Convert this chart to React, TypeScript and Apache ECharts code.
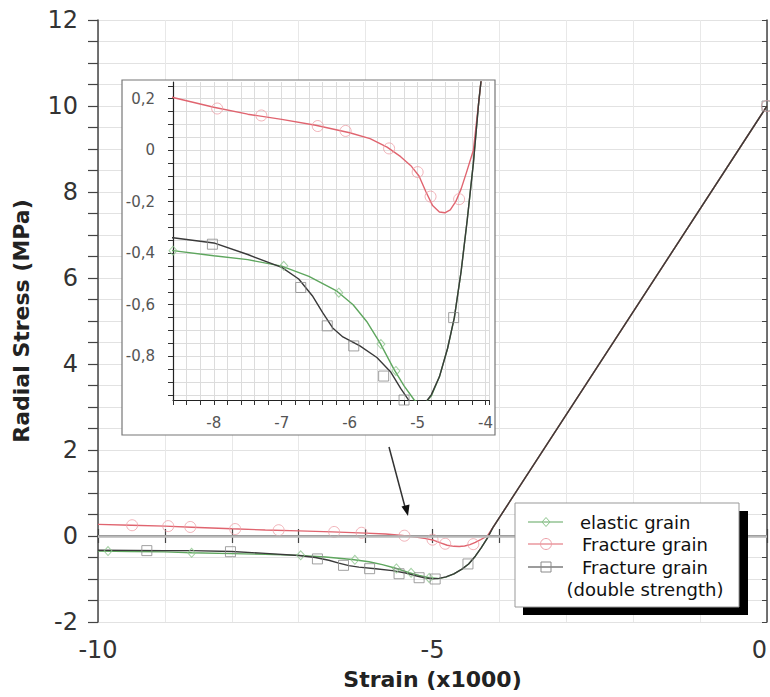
import React, { useEffect, useRef } from "react";
import * as echarts from "echarts";

// ---- data (strain x1000, radial stress MPa) ----
const redCurve: [number, number][] = [
  [-10, 0.27], [-9.5, 0.25], [-9.0, 0.23], [-8.6, 0.205], [-8.0, 0.167], [-7.5, 0.14],
  [-7.0, 0.12], [-6.5, 0.097], [-6.0, 0.068], [-5.7, 0.045], [-5.45, 0.012], [-5.25, -0.025],
  [-5.1, -0.06], [-4.98, -0.1], [-4.88, -0.16], [-4.78, -0.215], [-4.68, -0.24], [-4.6, -0.243],
  [-4.52, -0.232], [-4.44, -0.2], [-4.36, -0.15], [-4.28, -0.085], [-4.18, 0.0], [-4.1, 0.19], [0, 10],
];
const greenCurve: [number, number][] = [
  [-10, -0.35], [-9.5, -0.36], [-9.0, -0.37], [-8.6, -0.39], [-8.0, -0.41], [-7.5, -0.425],
  [-7.0, -0.45], [-6.6, -0.49], [-6.2, -0.545], [-5.95, -0.6], [-5.75, -0.665], [-5.55, -0.75],
  [-5.35, -0.85], [-5.2, -0.915], [-5.05, -0.97], [-4.92, -0.99], [-4.8, -0.955], [-4.68, -0.88],
  [-4.56, -0.77], [-4.46, -0.65], [-4.36, -0.47], [-4.27, -0.27], [-4.18, -0.05], [-4.1, 0.19], [0, 10],
];
const blackCurve: [number, number][] = [
  [-10, -0.33], [-9.5, -0.335], [-9.0, -0.34], [-8.6, -0.34], [-8.0, -0.36], [-7.5, -0.405],
  [-7.0, -0.455], [-6.75, -0.5], [-6.55, -0.565], [-6.4, -0.63], [-6.25, -0.69], [-6.1, -0.725],
  [-5.85, -0.76], [-5.6, -0.805], [-5.4, -0.86], [-5.25, -0.925], [-5.12, -0.975], [-5.0, -0.995],
  [-4.9, -0.985], [-4.8, -0.95], [-4.68, -0.88], [-4.56, -0.77], [-4.46, -0.65], [-4.36, -0.47],
  [-4.27, -0.27], [-4.18, -0.05], [-4.1, 0.19], [0, 10],
];
const redMarkers: [number, number][] = [
  [-9.49, 0.25], [-8.95, 0.23], [-8.62, 0.21], [-7.95, 0.162], [-7.3, 0.135], [-6.47, 0.094],
  [-6.06, 0.075], [-5.42, 0.007], [-5.0, -0.085], [-4.81, -0.18], [-4.39, -0.19], [0, 10],
];
const greenMarkers: [number, number][] = [
  [-9.85, -0.35], [-8.6, -0.39], [-6.97, -0.449], [-6.16, -0.553], [-5.54, -0.753],
  [-5.32, -0.857], [-5.05, -0.975],
];
const blackMarkers: [number, number][] = [
  [-9.27, -0.34], [-8.02, -0.365], [-6.72, -0.533], [-6.33, -0.682], [-5.94, -0.76],
  [-5.5, -0.877], [-5.2, -0.97], [-4.96, -1.0], [-4.47, -0.65], [0, 10],
];

const mainYLabels = [-2, 0, 2, 4, 6, 8, 10, 12];
const mainXLabels = [-10, -5, 0];
const insetXLabels = [-8, -7, -6, -5, -4];
const insetYLabels = [-0.8, -0.6, -0.4, -0.2, 0, 0.2];
const insetYTicks = [
  -0.95, -0.9, -0.85, -0.8, -0.75, -0.7, -0.65, -0.6, -0.55, -0.5, -0.45, -0.4, -0.35,
  -0.3, -0.25, -0.2, -0.15, -0.1, -0.05, 0, 0.05, 0.1, 0.15, 0.2, 0.25,
];

const seriesNames = ["elastic grain", "Fracture grain", "Fracture grain (double strength)"];

const RED = "#e0646f";
const GREEN = "#5ea65e";
const BLACK = "#3a3a3a";
const FONT = "DejaVu Sans";

const near = (v: number, list: number[]) => list.some((l) => Math.abs(l - v) < 1e-6);

function buildSeries(xi: number, yi: number, z: number, inset: boolean) {
  const lw = 1.4;
  const zero = {
    silent: true,
    symbol: "none",
    label: { show: false },
    lineStyle: inset
      ? { color: "#222", width: 1, type: "solid" }
      : { color: "#b8b8b8", width: 2.5, type: "solid" },
    data: [{ yAxis: 0 }],
  };
  const base = { xAxisIndex: xi, yAxisIndex: yi, z, animation: false, silent: true };
  return [
    { ...base, type: "line", name: seriesNames[0], data: greenCurve, showSymbol: false, lineStyle: { color: GREEN, width: lw }, itemStyle: { color: GREEN } },
    { ...base, type: "line", name: seriesNames[1], data: redCurve, showSymbol: false, lineStyle: { color: RED, width: lw }, itemStyle: { color: RED }, markLine: zero },
    { ...base, type: "line", name: seriesNames[2], data: blackCurve, showSymbol: false, lineStyle: { color: BLACK, width: lw }, itemStyle: { color: BLACK } },
    { ...base, type: "scatter", name: seriesNames[0], data: greenMarkers, symbol: "diamond", symbolSize: [8, 9], itemStyle: { color: "rgba(0,0,0,0)", borderColor: "#8cc48c", borderWidth: 1 } },
    { ...base, type: "scatter", name: seriesNames[1], data: redMarkers, symbol: "circle", symbolSize: 11, itemStyle: { color: "rgba(0,0,0,0)", borderColor: "#eda0a8", borderWidth: 1 } },
    { ...base, type: "scatter", name: seriesNames[2], data: blackMarkers, symbol: "rect", symbolSize: 10, itemStyle: { color: "rgba(0,0,0,0)", borderColor: "#8a8a8a", borderWidth: 1 } },
  ];
}

export default function App() {
  const ref = useRef<HTMLDivElement>(null);
  useEffect(() => {
    const chart = echarts.init(ref.current!, null, { renderer: "svg" });
    const axisLine = { show: true, lineStyle: { color: "#444", width: 1.5 } };
    const option: any = {
      animation: false,
      backgroundColor: "#fff",
      textStyle: { fontFamily: FONT },
      grid: [
        { left: 98, top: 20, width: 669, height: 602, containLabel: false, outerBoundsMode: "none" },
        { left: 173, top: 82, width: 316, height: 318, containLabel: false, outerBoundsMode: "none" },
      ],
      xAxis: [
        {
          gridIndex: 0, type: "value", position: "bottom", min: -10, max: 0, interval: 1,
          name: "Strain (x1000)", nameLocation: "middle", nameGap: 46,
          nameTextStyle: { fontFamily: FONT, fontSize: 22, fontWeight: "bold", color: "#222" },
          axisLine, axisTick: { show: true, length: 7, lineStyle: { color: "#444", width: 1.2 } },
          axisLabel: {
            fontFamily: FONT, fontSize: 24, color: "#333", margin: 16, alignMaxLabel: "right",
            formatter: (v: number) => (near(v, mainXLabels) ? String(Math.round(v)) : ""),
          },
          splitLine: { show: true, lineStyle: { color: "#e8e8e8", width: 1 } },
        },
        {
          gridIndex: 0, type: "value", position: "top", min: -10, max: 0, interval: 1,
          axisLine, axisTick: { show: true, length: 7, lineStyle: { color: "#444", width: 1.2 } },
          axisLabel: { show: false }, splitLine: { show: false },
        },
        {
          gridIndex: 1, type: "value", position: "bottom", min: -8.6, max: -3.95, interval: 0.2, z: 10,
          axisLine: { show: true, onZero: false, lineStyle: { color: "#222", width: 1.2 } },
          axisTick: { show: true, length: 5, lineStyle: { color: "#333" } },
          axisLabel: { fontFamily: FONT, fontSize: 15, color: "#555", margin: 15, formatter: (v: number) => (near(v, insetXLabels) ? String(Math.round(v)) : "") },
          splitLine: { show: true, lineStyle: { color: "#dcdcdc", width: 1 } },
        },
      ],
      yAxis: [
        {
          gridIndex: 0, type: "value", position: "left", min: -2, max: 12, interval: 0.5,
          name: "Radial Stress (MPa)", nameLocation: "middle", nameGap: 66,
          nameTextStyle: { fontFamily: FONT, fontSize: 22, fontWeight: "bold", color: "#222" },
          axisLine: { show: true, onZero: false, lineStyle: { color: "#444", width: 1.5 } },
          axisTick: { show: true, length: 10, lineStyle: { color: "#444", width: 1.2 } },
          axisLabel: { fontFamily: FONT, fontSize: 24, color: "#333", margin: 20, formatter: (v: number) => (near(v, mainYLabels) ? String(Math.round(v)) : "") },
          splitLine: { show: true, lineStyle: { color: "#e2e2e2", width: 1 } },
        },
        {
          gridIndex: 0, type: "value", position: "right", min: -2, max: 12, interval: 0.5,
          axisLine: { show: true, onZero: false, lineStyle: { color: "#444", width: 1.5 } },
          axisTick: { show: true, inside: true, length: 5, lineStyle: { color: "#444" } },
          axisLabel: { show: false }, splitLine: { show: false },
        },
        {
          gridIndex: 1, type: "value", position: "left", min: -0.97, max: 0.265, z: 10,
          axisLine: { show: true, onZero: false, lineStyle: { color: "#222", width: 1.2 } },
          axisTick: { show: true, length: 5, customValues: insetYTicks, lineStyle: { color: "#333" } },
          axisLabel: {
            fontFamily: FONT, fontSize: 15, color: "#555", margin: 18, customValues: insetYLabels,
            formatter: (v: number) => (Math.abs(v) < 1e-9 ? "0" : v.toFixed(1).replace(".", ",")),
          },
          splitLine: { show: true, lineStyle: { color: "#dcdcdc", width: 1 } },
        },
      ],
      graphic: [
        { type: "rect", z: 5, shape: { x: 122, y: 80, width: 373, height: 355 }, style: { fill: "#fff", stroke: "#777", lineWidth: 1.2 } },
        { type: "line", z: 6, shape: { x1: 389, y1: 447, x2: 405, y2: 507 }, style: { stroke: "#333", lineWidth: 1.5 } },
        { type: "polygon", z: 6, shape: { points: [[408, 516], [401.5, 506.5], [409.5, 504.5]] }, style: { fill: "#111" } },
        // legend
        { type: "rect", z: 20, shape: { x: 523, y: 511, width: 225, height: 104 }, style: { fill: "#000" } },
        { type: "rect", z: 21, shape: { x: 515, y: 503, width: 224, height: 104 }, style: { fill: "#fff", stroke: "#999", lineWidth: 1 } },
        { type: "line", z: 22, shape: { x1: 528, y1: 522, x2: 563, y2: 522 }, style: { stroke: GREEN, lineWidth: 1.2 } },
        { type: "polygon", z: 22, shape: { points: [[546, 517.5], [550, 522], [546, 526.5], [542, 522]] }, style: { fill: "none", stroke: "#8cc48c", lineWidth: 1 } },
        { type: "line", z: 22, shape: { x1: 528, y1: 544, x2: 563, y2: 544 }, style: { stroke: RED, lineWidth: 1.2 } },
        { type: "circle", z: 22, shape: { cx: 546, cy: 544, r: 5.5 }, style: { fill: "none", stroke: "#eda0a8", lineWidth: 1 } },
        { type: "line", z: 22, shape: { x1: 528, y1: 567, x2: 563, y2: 567 }, style: { stroke: BLACK, lineWidth: 1.2 } },
        { type: "rect", z: 22, shape: { x: 541, y: 562, width: 10, height: 10 }, style: { fill: "none", stroke: "#8a8a8a", lineWidth: 1 } },
        { type: "text", z: 22, x: 580, y: 522, style: { text: "elastic grain", font: `18px "${FONT}"`, fill: "#111", verticalAlign: "middle" } },
        { type: "text", z: 22, x: 582, y: 544, style: { text: "Fracture grain", font: `18px "${FONT}"`, fill: "#111", verticalAlign: "middle" } },
        { type: "text", z: 22, x: 582, y: 567, style: { text: "Fracture grain", font: `18px "${FONT}"`, fill: "#111", verticalAlign: "middle" } },
        { type: "text", z: 22, x: 645, y: 589, style: { text: "(double strength)", font: `18px "${FONT}"`, fill: "#111", verticalAlign: "middle", align: "center" } },
      ],
      series: [...buildSeries(0, 0, 2, false), ...buildSeries(2, 2, 12, true)],
    };
    chart.setOption(option);
    return () => chart.dispose();
  }, []);
  return <div ref={ref} style={{ position: "fixed", left: 0, top: 0, width: 770, height: 697 }} />;
}
